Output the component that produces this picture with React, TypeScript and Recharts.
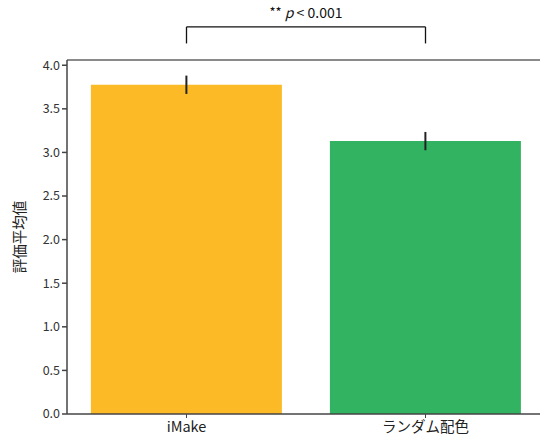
import {
  BarChart,
  Bar,
  XAxis,
  YAxis,
  ErrorBar,
  ReferenceLine,
  Cell,
} from "recharts";

const categories = ["iMake", "ランダム配色"];
const means = [3.776, 3.13];
const errors = [0.105, 0.105];
const barColors = ["#FBBA26", "#31B361"];
const yTicks = [0, 0.5, 1.0, 1.5, 2.0, 2.5, 3.0, 3.5, 4.0];
const Y_MAX = 4.06;
const BRACKET_TOP = 4.44;
const BRACKET_BOTTOM = 4.25;
const sigText = "p < 0.001";

const data = categories.map((name, i) => ({
  name,
  mean: means[i],
  err: errors[i],
}));

const FONT = "'Noto Sans CJK JP', 'Noto Sans', sans-serif";

function SigLabel(props: any) {
  const { viewBox } = props;
  const cx = viewBox.x + viewBox.width / 2;
  const y = viewBox.y - 9;
  return (
    <text
      x={cx}
      y={y}
      textAnchor="middle"
      fontFamily={FONT}
      fontSize={14}
      fill="#111"
    >
      <tspan fontSize={13} dy={-1}>**</tspan>
      <tspan dy={1} fontStyle="italic"> p</tspan>
      <tspan>{sigText.slice(1)}</tspan>
    </text>
  );
}

export default function App() {
  return (
    <div
      style={{
        position: "absolute",
        left: 0,
        top: 0,
        width: 540,
        height: 441,
        overflow: "hidden",
        background: "#fff",
      }}
    >
      <BarChart
        width={560}
        height={441}
        data={data}
        margin={{ top: 60, right: 15, left: 0, bottom: 0 }}
        barCategoryGap="10%"
      >
        <XAxis
          dataKey="name"
          height={27}
          tick={{ fill: "#222", fontSize: 14.5, fontFamily: FONT, dy: 2 }}
          tickSize={4}
          axisLine={{ stroke: "#444", strokeWidth: 1.5 }}
          tickLine={{ stroke: "#444" }}
        />
        <YAxis
          width={67}
          domain={[0, Y_MAX]}
          ticks={yTicks}
          tickFormatter={(v: number) => v.toFixed(1)}
          tick={{ fill: "#333", fontSize: 12.5, fontFamily: FONT }}
          tickSize={5}
          axisLine={{ stroke: "#444", strokeWidth: 1.5 }}
          tickLine={{ stroke: "#444", strokeWidth: 1.5 }}
          label={{
            value: "評価平均値",
            angle: -90,
            position: "insideLeft",
            offset: 20,
            style: { fill: "#222", fontSize: 14.5, fontFamily: FONT, textAnchor: "middle" },
          }}
        />
        <ReferenceLine y={Y_MAX} stroke="#8a8a8a" strokeWidth={2} />
        <Bar dataKey="mean" isAnimationActive={false}>
          {data.map((d, i) => (
            <Cell key={d.name} fill={barColors[i]} />
          ))}
          <ErrorBar
            dataKey="err"
            width={0}
            stroke="#222"
            strokeWidth={2}
            isAnimationActive={false}
          />
        </Bar>
        {/* significance bracket */}
        <ReferenceLine
          segment={[
            { x: categories[0], y: BRACKET_TOP },
            { x: categories[1], y: BRACKET_TOP },
          ]}
          ifOverflow="visible"
          stroke="#111"
          strokeWidth={1.3}
          label={<SigLabel />}
        />
        {categories.map((c) => (
          <ReferenceLine
            key={c}
            segment={[
              { x: c, y: BRACKET_TOP },
              { x: c, y: BRACKET_BOTTOM },
            ]}
            ifOverflow="visible"
            stroke="#111"
            strokeWidth={1.3}
          />
        ))}
      </BarChart>
    </div>
  );
}
